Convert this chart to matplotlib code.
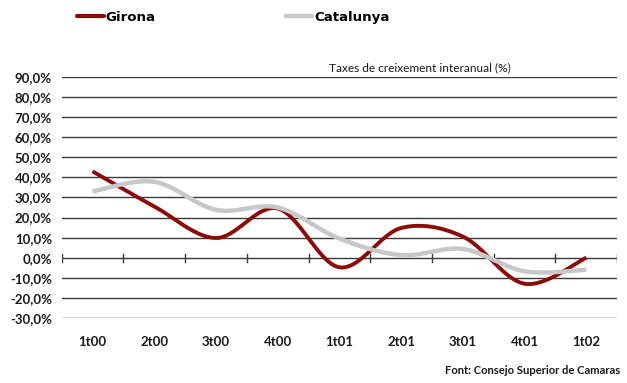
import numpy as np
import matplotlib.pyplot as plt
from matplotlib.lines import Line2D
from matplotlib.ticker import FuncFormatter

# Trimestres i taxes interanuals (%)
quarters = ["1t00", "2t00", "3t00", "4t00", "1t01", "2t01", "3t01", "4t01", "1t02"]
girona = [43.0, 25.5, 9.8, 24.5, -4.8, 14.8, 10.5, -13.0, 0.0]
catalunya = [33.0, 37.8, 23.8, 25.0, 9.5, 1.3, 4.3, -6.8, -6.0]

RED = "#8b0a0a"
GREY = "#c8c8c8"


def smooth(xs, ys, n=40):
    # corba suavitzada tipus Catmull-Rom (com la línia suavitzada d'Excel)
    xs = np.asarray(xs, float)
    ys = np.asarray(ys, float)
    px = np.concatenate([[xs[0]], xs, [xs[-1]]])
    py = np.concatenate([[ys[0]], ys, [ys[-1]]])
    out_x, out_y = [], []
    t = np.linspace(0, 1, n)
    for i in range(1, len(px) - 2):
        p0 = np.array([px[i], py[i]])
        p3 = np.array([px[i + 1], py[i + 1]])
        c1 = p0 + (np.array([px[i + 1], py[i + 1]]) - np.array([px[i - 1], py[i - 1]])) / 6
        c2 = p3 - (np.array([px[i + 2], py[i + 2]]) - np.array([px[i], py[i]])) / 6
        b = ((1 - t) ** 3)[:, None] * p0 + (3 * (1 - t) ** 2 * t)[:, None] * c1 \
            + (3 * (1 - t) * t ** 2)[:, None] * c2 + (t ** 3)[:, None] * p3
        out_x.extend(b[:, 0])
        out_y.extend(b[:, 1])
    return np.array(out_x), np.array(out_y)


plt.rcParams["font.family"] = ["Lato", "DejaVu Sans"]

fig = plt.figure(figsize=(6.27, 3.83), dpi=100)
ax = fig.add_axes([0.0984, 0.170, 0.886, 0.629])

x = np.arange(len(quarters))
for y in range(-30, 100, 10):
    ax.axhline(y, color="#3a3a3a", lw=1.0, zorder=1)

gx, gy = smooth(x, girona)
cx, cy = smooth(x, catalunya)
ax.plot(gx, gy, color=RED, lw=2.8, solid_capstyle="butt", zorder=3)
ax.plot(cx, cy, color=GREY, lw=3.2, solid_capstyle="butt", zorder=4)

# marques de categoria sobre la línia del zero
for b in np.arange(-0.5, len(quarters), 1.0):
    ax.plot([b, b], [-2.0, 2.0], color="#3a3a3a", lw=1.0, zorder=2)

ax.set_xlim(-0.5, len(quarters) - 0.5)
ax.set_ylim(-30, 90)
ax.set_yticks(range(-30, 100, 10))
ax.yaxis.set_major_formatter(FuncFormatter(lambda v, p: f"{v:.1f}%".replace(".", ",")))
ax.set_xticks(x)
ax.set_xticklabels(quarters)
ax.tick_params(axis="both", length=0, labelsize=9.5, colors="#1a1a1a")
ax.tick_params(axis="y", pad=7)
ax.tick_params(axis="x", pad=13)
for lab in ax.get_xticklabels() + ax.get_yticklabels():
    lab.set_fontweight("bold")
for s in ax.spines.values():
    s.set_visible(False)

fig.text(0.67, 0.808, "Taxes de creixement interanual (%)", ha="center", va="bottom",
         fontsize=8.6, color="#1a1a1a")

# llegenda
leg_font = {"family": "DejaVu Sans", "weight": "bold", "size": 9.6}
h_gir = Line2D([], [], color=RED, lw=3.0, solid_capstyle="round")
h_cat = Line2D([], [], color=GREY, lw=3.2, solid_capstyle="round")
fig.legend(handles=[h_gir], labels=["Girona"], loc="center left",
           bbox_to_anchor=(0.112, 0.955), frameon=False, handlelength=2.0,
           handletextpad=0.15, borderpad=0, prop=leg_font)
fig.legend(handles=[h_cat], labels=["Catalunya"], loc="center left",
           bbox_to_anchor=(0.445, 0.955), frameon=False, handlelength=2.0,
           handletextpad=0.15, borderpad=0, prop=leg_font)

fig.text(0.99, 0.018, "Font: Consejo Superior de Camaras", ha="right", va="bottom",
         fontsize=8.1, fontweight="bold", color="#1a1a1a")

fig.savefig("out.png", dpi=100)
